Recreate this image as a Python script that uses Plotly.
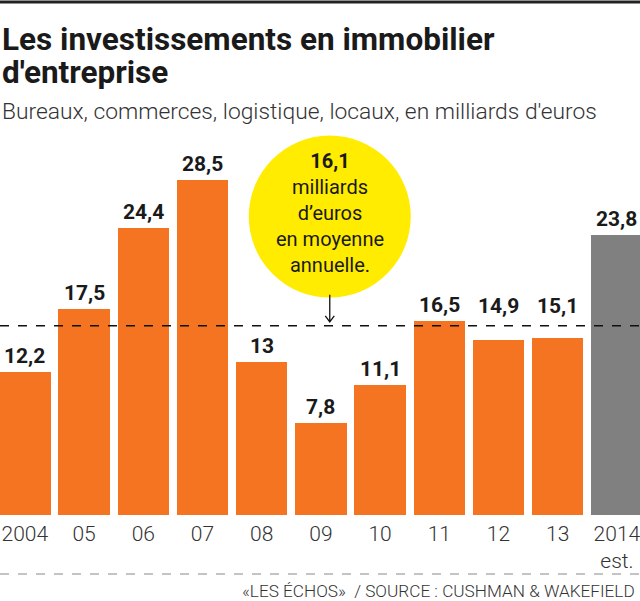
import plotly.graph_objects as go

years = ["2004", "05", "06", "07", "08", "09", "10", "11", "12", "13", "2014<br>est."]
values = [12.2, 17.5, 24.4, 28.5, 13, 7.8, 11.1, 16.5, 14.9, 15.1, 23.8]
labels = ["12,2", "17,5", "24,4", "28,5", "13", "7,8", "11,1", "16,5", "14,9", "15,1", "23,8"]
average = 16.1
average_label = "16,1"

ORANGE = "#F47422"
GREY = "#808080"
colors = [ORANGE] * 10 + [GREY]

W, H = 640, 601
T, B = 130, 86
PH = H - T - B
PX_PER_UNIT = 11.75


def py(pix):
    """pixel y from top -> paper y"""
    return (H - B - pix) / PH


x_idx = list(range(len(years)))

fig = go.Figure()
fig.add_trace(go.Bar(
    x=x_idx, y=values, marker=dict(color=colors, line=dict(width=0)),
    width=0.87, hoverinfo="skip",
))

for xi, v, lab in zip(x_idx, values, labels):
    # labels of bars just under the average line are lifted above it
    lifted = v < average and (average - v) * PX_PER_UNIT < 26
    fig.add_annotation(x=xi, y=average if lifted else v, xref="x", yref="y", showarrow=False,
                       yanchor="bottom", yshift=6 if lifted else 2, text="<b>%s</b>" % lab,
                       font=dict(family="Roboto", size=21, color="#1a1a1a"))

# average dashed line
fig.add_shape(type="line", xref="paper", yref="y", x0=0, x1=1, y0=average, y1=average,
              line=dict(color="#111", width=1.5, dash="dash"), layer="above")

# yellow circle
cx, cy = 5.15, 25.4
fig.add_shape(type="circle", xref="x", yref="y", xsizemode="pixel", ysizemode="pixel",
              xanchor=cx, yanchor=cy, x0=-81, x1=81, y0=-81, y1=81,
              fillcolor="#FFEC00", line=dict(width=0), layer="below")
fig.add_annotation(x=cx, y=cy, xref="x", yref="y", showarrow=False, yshift=4,
                   text="<b>%s</b><br>milliards<br>d’euros<br>en moyenne<br>annuelle." % average_label,
                   font=dict(family="Roboto", size=20, color="#1a1a1a"), align="center")
# arrow (thin line with open chevron head)
fig.add_shape(type="path", xref="x", yref="y", xsizemode="pixel", ysizemode="pixel",
              xanchor=cx, yanchor=average,
              path="M0,4 L0,31 M-4.5,10 L0,4 L4.5,10",
              line=dict(color="#111", width=1.3))

# title & subtitle
fig.add_annotation(x=0.0, y=py(19), xref="paper", yref="paper", xanchor="left", yanchor="top",
                   showarrow=False, align="left",
                   text="<b>Les investissements en immobilier</b>",
                   font=dict(family="Roboto", size=31.5, color="#1a1a1a"))
fig.add_annotation(x=0.0, y=py(52), xref="paper", yref="paper", xanchor="left", yanchor="top",
                   showarrow=False, align="left",
                   text="<b>d'entreprise</b>",
                   font=dict(family="Roboto", size=31.5, color="#1a1a1a"))
fig.add_annotation(x=0.0, y=py(96), xref="paper", yref="paper", xanchor="left", yanchor="top",
                   showarrow=False, align="left",
                   text="Bureaux, commerces, logistique, locaux, en milliards d'euros",
                   font=dict(family="Roboto", size=22.8, color="#333", weight=300))

# top rule and bottom dashed separator
fig.add_shape(type="line", xref="paper", yref="paper", x0=0, x1=1, y0=py(2), y1=py(2),
              line=dict(color="#222", width=3))
fig.add_shape(type="line", xref="paper", yref="paper", x0=0, x1=1, y0=py(574), y1=py(574),
              line=dict(color="#888", width=1, dash="dash"))
fig.add_annotation(x=0.995, y=py(591), xref="paper", yref="paper", xanchor="right", yanchor="middle",
                   showarrow=False, text="«LES ÉCHOS»  / SOURCE : CUSHMAN & WAKEFIELD",
                   font=dict(family="Roboto", size=17.2, color="#333", weight=300))

fig.update_layout(
    width=W, height=H, margin=dict(l=0, r=0, t=T, b=B),
    paper_bgcolor="white", plot_bgcolor="white", showlegend=False,
    bargap=0,
    xaxis=dict(range=[-0.42, 10.39], tickmode="array", tickvals=x_idx, ticktext=years,
               showgrid=False, zeroline=False, showline=False, ticks="",
               ticklabeloverflow="allow", automargin=False, ticklabelstandoff=4,
               tickfont=dict(family="Roboto", size=21, color="#333", weight=300)),
    yaxis=dict(range=[0, PH / PX_PER_UNIT], visible=False, showgrid=False, zeroline=False),
)

fig.write_html("out.html", config={"displayModeBar": False},
               post_script="document.body.style.margin='0';")
